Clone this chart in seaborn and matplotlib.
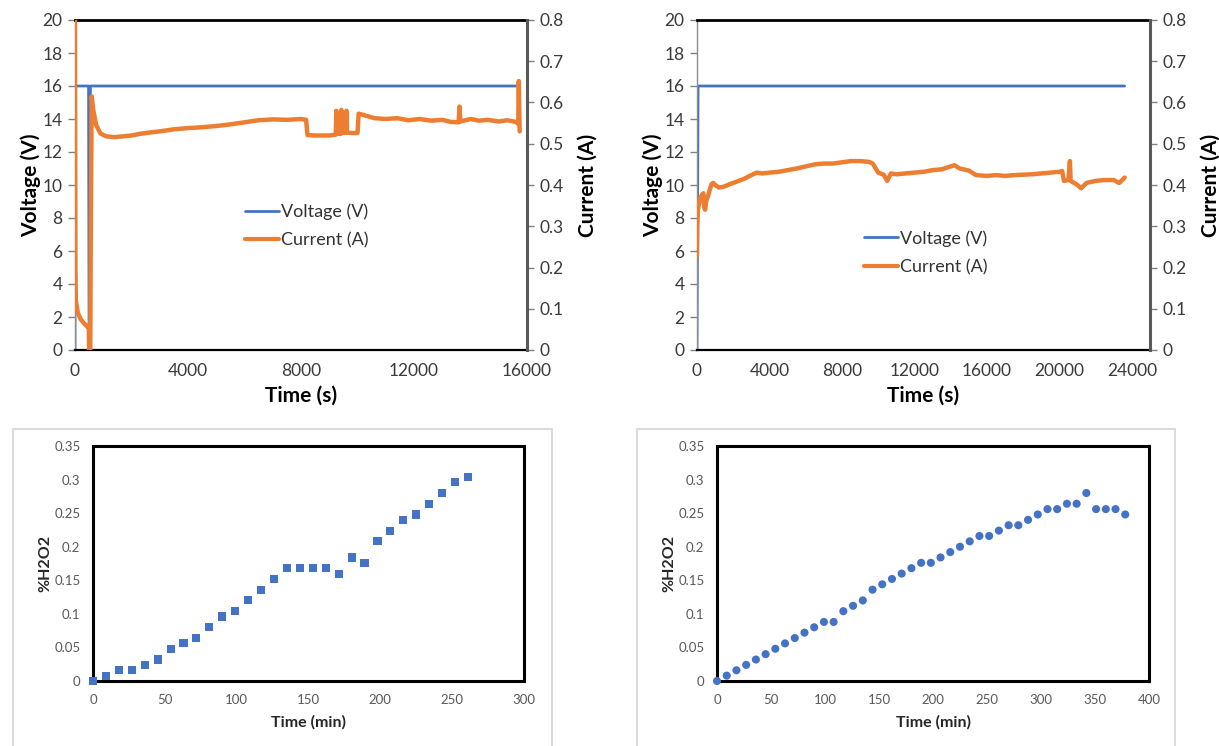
import matplotlib
matplotlib.use("Agg")
import matplotlib.pyplot as plt
from matplotlib.lines import Line2D
from matplotlib.patches import Rectangle
from matplotlib.ticker import FuncFormatter, MultipleLocator
import seaborn as sns
import pandas as pd

# ---------------- data ----------------
# Run 1: potentiostatic electrolysis, 0-16000 s
run1_volt_time = [0, 5, 480, 500, 530, 545, 15720]
run1_voltage = [0, 16, 16, 0, 0, 16, 16]
run1_curr_time = [0, 15, 30, 100, 200, 300, 400, 470, 490, 500, 540, 560, 590, 650, 750,
                  900, 1100, 1400, 1700, 2000, 2300, 2600, 3000, 3500, 4000, 4500, 5000,
                  5500, 6000, 6500, 7000, 7500, 8000, 8180, 8230, 8500, 9000, 9230, 9250,
                  9270, 9400, 9430, 9450, 9580, 9610, 9630, 9800, 10000, 10040, 10300,
                  10600, 11000, 11400, 11800, 12200, 12600, 13000, 13300, 13580, 13610,
                  13640, 14000, 14300, 14600, 15000, 15300, 15600, 15690, 15710, 15740]
run1_current = [0.80, 0.20, 0.12, 0.09, 0.075, 0.066, 0.059, 0.055, 0.060, 0.0, 0.0, 0.30,
                0.615, 0.58, 0.545, 0.525, 0.518, 0.516, 0.518, 0.520, 0.524, 0.527, 0.530,
                0.535, 0.538, 0.540, 0.543, 0.547, 0.552, 0.557, 0.559, 0.558, 0.560, 0.558,
                0.521, 0.520, 0.520, 0.522, 0.580, 0.524, 0.524, 0.582, 0.526, 0.527, 0.580,
                0.527, 0.526, 0.526, 0.573, 0.568, 0.562, 0.560, 0.562, 0.557, 0.560, 0.556,
                0.558, 0.553, 0.552, 0.590, 0.554, 0.560, 0.556, 0.558, 0.554, 0.557, 0.553,
                0.548, 0.652, 0.530]

# Run 2: potentiostatic electrolysis, 0-23600 s
run2_volt_time = [0, 60, 23600]
run2_voltage = [0, 16, 16]
run2_curr_time = [0, 20, 50, 100, 200, 300, 350, 400, 450, 500, 600, 700, 800, 900, 1000,
                  1200, 1400, 1600, 1800, 2000, 2300, 2600, 3000, 3300, 3600, 4000, 4500,
                  5000, 5500, 6000, 6500, 7000, 7500, 8000, 8500, 9000, 9500, 9700, 10000,
                  10300, 10500, 10700, 11000, 11500, 12000, 12500, 13000, 13500, 14000,
                  14200, 14500, 15000, 15400, 16000, 16500, 17000, 17500, 18000, 18500,
                  19000, 19500, 20000, 20150, 20250, 20500, 20580, 20620, 21000, 21200,
                  21500, 22000, 22500, 23000, 23300, 23600]
run2_current = [0.228, 0.300, 0.340, 0.352, 0.370, 0.378, 0.380, 0.345, 0.340, 0.360, 0.372,
                0.388, 0.402, 0.405, 0.400, 0.394, 0.395, 0.398, 0.402, 0.405, 0.410, 0.415,
                0.424, 0.430, 0.428, 0.430, 0.432, 0.436, 0.440, 0.445, 0.450, 0.452, 0.452,
                0.455, 0.458, 0.458, 0.456, 0.452, 0.430, 0.425, 0.410, 0.428, 0.426, 0.428,
                0.430, 0.432, 0.436, 0.438, 0.445, 0.448, 0.440, 0.435, 0.424, 0.422, 0.424,
                0.422, 0.424, 0.425, 0.426, 0.428, 0.430, 0.432, 0.434, 0.410, 0.412, 0.458,
                0.410, 0.400, 0.392, 0.405, 0.410, 0.412, 0.412, 0.405, 0.418]

# H2O2 concentration sampled every 9 min
run1_h2o2_time = list(range(0, 262, 9))
run1_h2o2 = [0, 0.008, 0.016, 0.016, 0.024, 0.032, 0.048, 0.056, 0.064, 0.080,
             0.096, 0.104, 0.120, 0.136, 0.152, 0.168, 0.168, 0.168, 0.168, 0.160,
             0.184, 0.176, 0.208, 0.224, 0.240, 0.248, 0.264, 0.280, 0.296, 0.304]
run2_h2o2_time = list(range(0, 379, 9))
run2_h2o2 = [0, 0.008, 0.016, 0.024, 0.032, 0.040, 0.048, 0.056, 0.064, 0.072,
             0.080, 0.088, 0.088, 0.104, 0.112, 0.120, 0.136, 0.144, 0.152, 0.160,
             0.168, 0.176, 0.176, 0.184, 0.192, 0.200, 0.208, 0.216, 0.216, 0.224,
             0.232, 0.232, 0.240, 0.248, 0.256, 0.256, 0.264, 0.264, 0.280, 0.256,
             0.256, 0.256, 0.248]

# ---------------- style ----------------
BLUE = "#4472C4"
ORANGE = "#ED7D31"
TICK_GREY = "#595959"

sns.set_theme(style="white")
plt.rcParams["font.family"] = ["Lato", "DejaVu Sans"]

W, H = 1219, 746
fig = plt.figure(figsize=(W / 100, H / 100), dpi=100)


def fig_rect(x0, y0, x1, y1):
    """Pixel box (top-left origin) -> figure-fraction rect."""
    return [x0 / W, 1 - y1 / H, (x1 - x0) / W, (y1 - y0) / H]


gfmt = FuncFormatter(lambda v, p: f"{v:g}")


def iv_panel(rect, vt, v, ct, c, xmax, legend_anchor):
    ax = fig.add_axes(rect)
    ax2 = ax.twinx()
    sns.lineplot(x=vt, y=v, ax=ax, color=BLUE, lw=2.0, estimator=None, sort=False)
    sns.lineplot(x=ct, y=c, ax=ax2, color=ORANGE, lw=3.2, estimator=None, sort=False)
    ax.set_xlim(0, xmax)
    ax.set_ylim(0, 20)
    ax2.set_ylim(0, 0.8)
    ax.xaxis.set_major_locator(MultipleLocator(4000))
    ax.yaxis.set_major_locator(MultipleLocator(2))
    ax2.yaxis.set_major_locator(MultipleLocator(0.1))
    ax2.yaxis.set_major_formatter(gfmt)
    for a in (ax, ax2):
        a.tick_params(axis="both", direction="out", length=5, width=1, colors="#808080",
                      labelcolor="#3a3a3a", labelsize=12.5, pad=4)
    ax.set_xlabel("Time (s)", fontsize=15, fontweight="bold", color="black", labelpad=5)
    ax.set_ylabel("Voltage (V)", fontsize=15, fontweight="bold", color="black", labelpad=1)
    ax2.set_ylabel("Current (A)", fontsize=15, fontweight="bold", color="black", labelpad=10)
    ax.spines["top"].set_color("black")
    ax.spines["top"].set_linewidth(2)
    ax.spines["bottom"].set_color("black")
    ax.spines["bottom"].set_linewidth(1.6)
    ax.spines["left"].set_color("#8c8c8c")
    ax.spines["left"].set_linewidth(1)
    ax.spines["right"].set_visible(False)
    for s in ("top", "bottom", "left"):
        ax2.spines[s].set_visible(False)
    ax2.spines["right"].set_color("#595959")
    ax2.spines["right"].set_linewidth(2.2)
    handles = [Line2D([], [], color=BLUE, lw=2.0), Line2D([], [], color=ORANGE, lw=3.0)]
    ax2.legend(handles, ["Voltage (V)", "Current (A)"], loc="center left",
               bbox_to_anchor=legend_anchor, frameon=False, fontsize=13,
               handlelength=1.9, handletextpad=0.1, labelspacing=0.68,
               labelcolor="#333333", borderaxespad=0)
    return ax


def h2o2_panel(rect, frame, t, y, marker, xmax):
    fig.patches.append(Rectangle((frame[0], frame[1]), frame[2], frame[3],
                                 transform=fig.transFigure, fill=False,
                                 edgecolor="#d4d4d4", lw=1.2, zorder=0))
    ax = fig.add_axes(rect)
    df = pd.DataFrame({"t": t, "y": y})
    sns.scatterplot(data=df, x="t", y="y", ax=ax, marker=marker, s=34, color=BLUE,
                    edgecolor="none", linewidth=0, zorder=3, clip_on=False)
    ax.set_xlim(0, xmax)
    ax.set_ylim(0, 0.35)
    ax.xaxis.set_major_locator(MultipleLocator(50))
    ax.yaxis.set_major_locator(MultipleLocator(0.05))
    ax.yaxis.set_major_formatter(gfmt)
    ax.tick_params(axis="both", direction="out", length=4, width=1, colors="#808080",
                   labelcolor=TICK_GREY, labelsize=9.5, pad=5)
    ax.set_xlabel("Time (min)", fontsize=11.5, fontweight="bold", color="#262626", labelpad=7)
    ax.set_ylabel("%H2O2", fontsize=11.5, fontweight="bold", color="#262626", labelpad=1)
    for s in ax.spines.values():
        s.set_color("black")
        s.set_linewidth(2.2)
    return ax


iv_panel(fig_rect(75, 20, 527, 350), run1_volt_time, run1_voltage,
         run1_curr_time, run1_current, 16000, (0.36, 0.375))
iv_panel(fig_rect(697, 20, 1150, 350), run2_volt_time, run2_voltage,
         run2_curr_time, run2_current, 25000, (0.352, 0.295))

h2o2_panel(fig_rect(93, 446, 524, 681), [13 / W, -0.01, 539 / W, (746 - 429) / H + 0.01],
           run1_h2o2_time, run1_h2o2, "s", 300)
h2o2_panel(fig_rect(717, 446, 1149, 681), [637 / W, -0.01, 538 / W, (746 - 429) / H + 0.01],
           run2_h2o2_time, run2_h2o2, "o", 400)

fig.savefig("out.png", dpi=100, facecolor="white")
